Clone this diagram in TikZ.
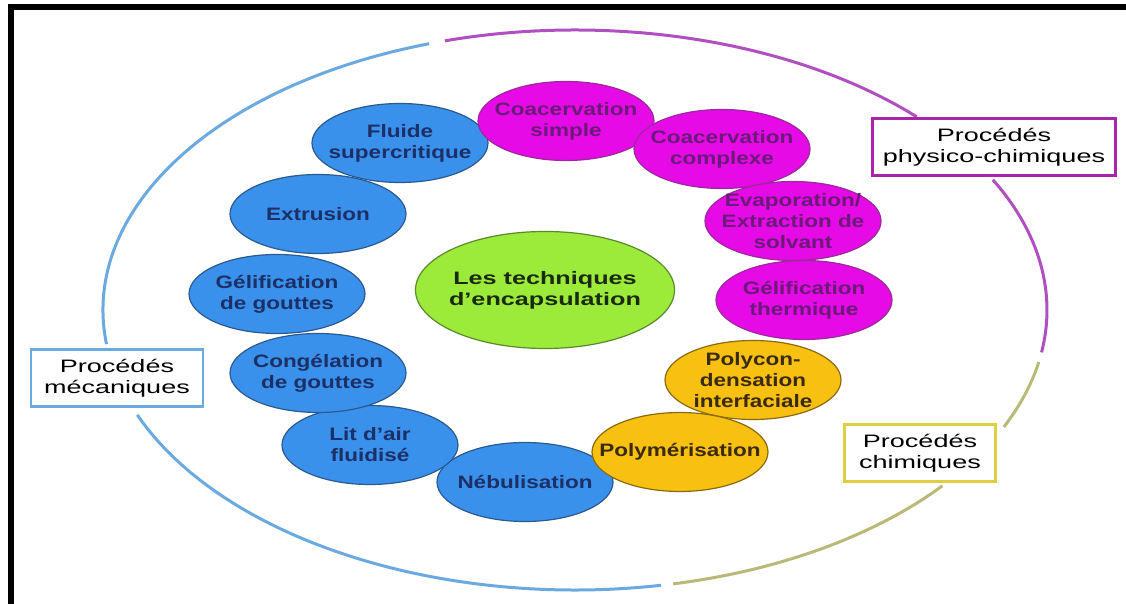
\documentclass[tikz,border=0pt]{standalone}
\usepackage{fontspec}
\setmainfont{Liberation Sans}[FakeStretch=1.25]
\newfontfamily\widefont{Liberation Sans}[FakeStretch=1.4]
\newfontfamily\boxfont{Liberation Sans}[FakeStretch=1.5]
\usepackage{tikz}
\usetikzlibrary{shapes.geometric}

\definecolor{mecafill}{HTML}{3A91EB}
\definecolor{mecaline}{HTML}{2A5A90}
\definecolor{mecatext}{HTML}{1C2F66}
\definecolor{physfill}{HTML}{E60AE6}
\definecolor{physline}{HTML}{9A2A9A}
\definecolor{phystext}{HTML}{6A1A78}
\definecolor{chimfill}{HTML}{F8C010}
\definecolor{chimline}{HTML}{8A6A10}
\definecolor{chimtext}{HTML}{3A2A10}
\definecolor{techfill}{HTML}{9CEB3A}
\definecolor{techline}{HTML}{5A8A2A}
\definecolor{techtext}{HTML}{1A2A10}
\definecolor{ringmeca}{HTML}{6AAAE0}
\definecolor{ringphys}{HTML}{B050C0}
\definecolor{ringchim}{HTML}{BABA78}
\definecolor{boxchim}{HTML}{E0D040}

\tikzset{
    blob/.style={ellipse, draw, line width=1.2pt, minimum width=176pt, minimum height=79pt,
        inner sep=-30pt, align=center, font=\fontsize{18}{21}\selectfont\bfseries},
    mecablob/.style={blob, fill=mecafill, draw=mecaline, text=mecatext},
    physblob/.style={blob, fill=physfill, draw=physline, text=phystext},
    chimblob/.style={blob, fill=chimfill, draw=chimline, text=chimtext},
    groupbox/.style={rectangle, draw, line width=2.5pt, fill=white, minimum height=57pt,
        inner sep=0pt, align=center, font=\boxfont\fontsize{18}{21}\selectfont},
    ring/.style={line width=3pt}
}

\begin{document}
\begin{tikzpicture}[x=1pt, y=1pt]
        \useasboundingbox (0,0) rectangle (1126,604);
        \fill[white] (0,0) rectangle (1126,604);
        \fill[black] (8,0) rectangle (14,600);
        \fill[black] (8,593.5) rectangle (1126,600);

        \coordinate (ring) at (575,294);
        \draw[ring, ringmeca] ([shift={(108:472pt and 280pt)}]ring) arc[start angle=108, end angle=187, x radius=472pt, y radius=280pt];
        \draw[ring, ringmeca] ([shift={(202:472pt and 280pt)}]ring) arc[start angle=202, end angle=280.5, x radius=472pt, y radius=280pt];
        \draw[ring, ringphys] ([shift={(106:472pt and 280pt)}]ring) arc[start angle=106, end angle=43.6, x radius=472pt, y radius=280pt];
        \draw[ring, ringphys] ([shift={(27.7:472pt and 280pt)}]ring) arc[start angle=27.7, end angle=-8.7, x radius=472pt, y radius=280pt];
        \draw[ring, ringchim] ([shift={(-10.7:472pt and 280pt)}]ring) arc[start angle=-10.7, end angle=-24.7, x radius=472pt, y radius=280pt];
        \draw[ring, ringchim] ([shift={(-38.9:472pt and 280pt)}]ring) arc[start angle=-38.9, end angle=-78, x radius=472pt, y radius=280pt];

        \node[groupbox, draw=physline!80!physfill, minimum width=243pt] (physico) at (994,457) {Procédés\\physico-chimiques};
        \node[groupbox, draw=ringmeca, minimum width=172pt] (meca) at (117,226) {Procédés\\mécaniques};
        \node[groupbox, draw=boxchim, minimum width=151pt] (chim) at (920,151) {Procédés\\chimiques};

        \node[mecablob] (nebul) at (525,122) {Nébulisation};
        \node[mecablob] (lit) at (370,159) {Lit d'air\\fluidisé};
        \node[mecablob] (congel) at (318,231) {Congélation\\de gouttes};
        \node[mecablob] (gelgout) at (277,310) {Gélification\\de gouttes};
        \node[mecablob] (extru) at (318,390) {Extrusion};
        \node[mecablob] (fluide) at (400,461) {Fluide\\supercritique};
        \node[physblob] (coacsim) at (566,483) {Coacervation\\simple};
        \node[physblob] (coaccom) at (722,455) {Coacervation\\complexe};
        \node[physblob] (evap) at (793,383) {Evaporation/\\Extraction de\\solvant};
        \node[physblob] (gelther) at (804,304) {Gélification\\thermique};
        \node[chimblob] (polycon) at (753,224) {Polycon-\\densation\\interfaciale};
        \node[chimblob] (polymer) at (680,152) {Polymérisation};

        \node[ellipse, draw=techline, fill=techfill, text=techtext, line width=1.2pt,
            minimum width=259pt, minimum height=117pt, inner sep=-30pt, align=center,
            font=\widefont\fontsize{18}{21}\selectfont\bfseries] (tech) at (545,314) {Les techniques\\d’encapsulation};

\end{tikzpicture}
\end{document}
